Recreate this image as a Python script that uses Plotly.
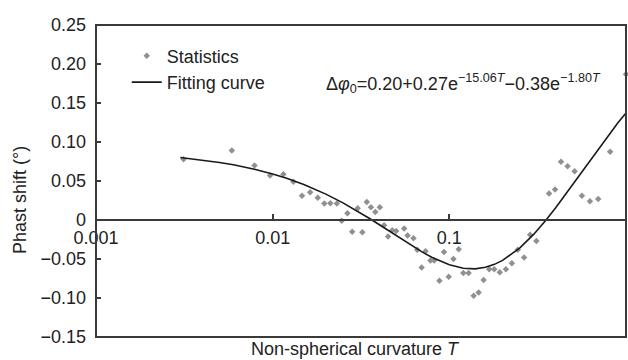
import plotly.graph_objects as go

# Statistics (scatter)
stats_T = [0.00313, 0.00587, 0.00789, 0.00967, 0.0115, 0.0131, 0.01466, 0.0163, 0.0180, 0.0196,
           0.0212, 0.0231, 0.0246, 0.0265, 0.0282, 0.0303, 0.0322, 0.0341, 0.0360, 0.0381,
           0.0404, 0.0427, 0.0450, 0.0475, 0.050, 0.0555, 0.0580, 0.0627, 0.0658, 0.0697,
           0.0733, 0.0782, 0.082, 0.0879, 0.0933, 0.0992, 0.1055, 0.113, 0.120, 0.1286,
           0.1373, 0.1465, 0.1563, 0.1683, 0.1796, 0.193, 0.209, 0.226, 0.244, 0.265,
           0.2866, 0.311, 0.367, 0.3967, 0.4288, 0.467, 0.512, 0.563, 0.625, 0.696,
           0.813, 1.0]
stats_v = [0.078, 0.089, 0.070, 0.057, 0.0586, 0.049, 0.031, 0.0355, 0.0286, 0.021,
           0.0214, 0.021, -0.001, 0.0086, -0.015, 0.015, -0.0158, 0.023, 0.0163, 0.0103,
           0.0163, -0.0068, -0.021, -0.0132, -0.014, -0.011, -0.020, -0.0235, -0.038, -0.061,
           -0.040, -0.052, -0.052, -0.078, -0.041, -0.0727, -0.050, -0.0376, -0.068, -0.068,
           -0.097, -0.093, -0.077, -0.063, -0.063, -0.067, -0.063, -0.0556, -0.038, -0.048,
           -0.019, -0.027, 0.034, 0.039, 0.0748, 0.0688, 0.0624, 0.031, 0.024, 0.027,
           0.0876, 0.187]

# Fitting curve values
fit_T = [0.003, 0.004, 0.005, 0.006, 0.008, 0.01, 0.012, 0.015, 0.02, 0.025, 0.03, 0.035,
         0.04, 0.05, 0.06, 0.07, 0.08, 0.1, 0.12, 0.14, 0.16, 0.18, 0.2, 0.25, 0.3, 0.35,
         0.4, 0.5, 0.6, 0.7, 0.8, 0.9, 1.0]
fit_v = [0.0801, 0.0769, 0.0738, 0.0708, 0.0648, 0.0590, 0.0535, 0.0455, 0.0332, 0.0220,
         0.0118, 0.0026, -0.0058, -0.0201, -0.0317, -0.0409, -0.0481, -0.0575, -0.0619,
         -0.0626, -0.0606, -0.0569, -0.0518, -0.0360, -0.0185, -0.0010, 0.0157, 0.0456,
         0.0710, 0.0922, 0.1100, 0.1248, 0.1372]

y_ticks = [-0.15, -0.10, -0.05, 0, 0.05, 0.10, 0.15, 0.20, 0.25]
y_labels = ["\u22120.15", "\u22120.10", "\u22120.05", "0", "0.05", "0.10", "0.15", "0.20", "0.25"]
x_ticks = [0.001, 0.01, 0.1, 1]
x_labels = ["0.001", "0.01", "0.1", "1"]

FONT = "Liberation Sans, Arial, sans-serif"
INK = "#222222"
AX = "#3a3a3a"
FS = 18

fig = go.Figure()
fig.add_trace(go.Scatter(x=stats_T, y=stats_v, mode="markers", name="Statistics",
                         marker=dict(symbol="diamond", size=5, color="#909090"),
                         cliponaxis=False))
fig.add_trace(go.Scatter(x=fit_T, y=fit_v, mode="lines", name="Fitting curve",
                         line=dict(color="#1a1a1a", width=1.6)))

fig.update_layout(
    width=628, height=360,
    margin=dict(l=96, r=2, t=25, b=23),
    paper_bgcolor="white", plot_bgcolor="white",
    font=dict(family=FONT, size=FS, color=INK),
    showlegend=True,
    legend=dict(x=0.058, y=0.96, xanchor="left", yanchor="top",
                bgcolor="rgba(0,0,0,0)", font=dict(size=FS), tracegroupgap=0,
                itemwidth=30),
    xaxis=dict(type="log", range=[-3, 0], anchor="free", position=0.375,
               showline=True, linecolor=AX, linewidth=2, showgrid=False, zeroline=False,
               ticks="inside", ticklen=5, tickwidth=1.5, tickcolor=AX,
               tickvals=x_ticks, ticktext=x_labels, ticklabelstandoff=1),
    yaxis=dict(range=[-0.15, 0.25], showline=False, showgrid=False, zeroline=False,
               ticks="inside", ticklen=5, tickwidth=1.5, tickcolor=AX,
               tickvals=y_ticks, ticktext=y_labels, ticklabelstandoff=9),
)

fig.add_shape(type="rect", xref="paper", yref="paper", x0=0, y0=0, x1=1, y1=1,
              line=dict(color=AX, width=2), layer="above")

fig.add_annotation(xref="paper", yref="paper", x=0.6925, y=0.814, showarrow=False,
                   xanchor="center", yanchor="middle",
                   text="\u0394<i>\u03c6</i><sub>0</sub>=0.20+0.27e<sup>\u221215.06<i>T</i></sup>\u22120.38e<sup>\u22121.80<i>T</i></sup>",
                   font=dict(size=FS, color=INK))
fig.add_annotation(xref="paper", yref="paper", x=0.4887, y=-0.039, showarrow=False,
                   xanchor="center", yanchor="middle",
                   text="Non-spherical curvature <i>T</i>", font=dict(size=FS, color=INK))
fig.add_annotation(xref="paper", yref="paper", x=-0.1434, y=0.439, showarrow=False,
                   xanchor="center", yanchor="middle",
                   textangle=-90, text="Phast shift (\u00b0)", font=dict(size=FS, color=INK))

fig.write_html("out.html")
